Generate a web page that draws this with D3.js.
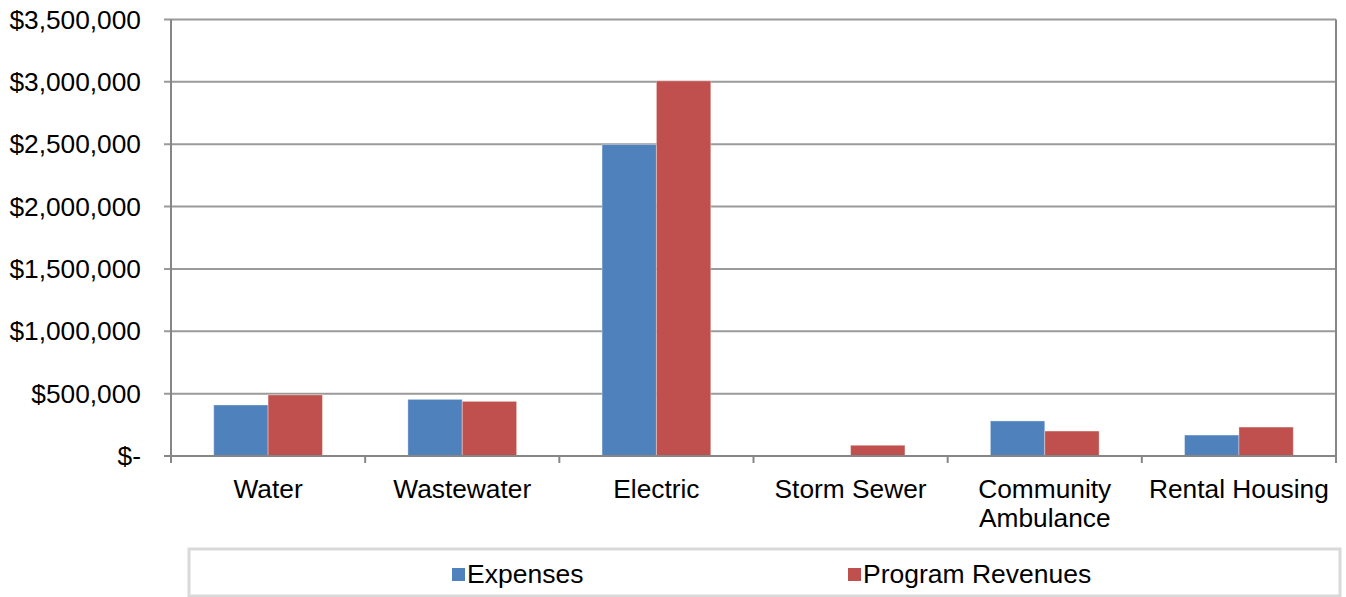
<!DOCTYPE html>
<html>
<head>
	<title>Expenses and Program Revenues</title>
	<script src="https://cdn.jsdelivr.net/npm/d3@7"></script>
	<style>
		body { margin: 0; background: #fff; }
		text { font-family: "Liberation Sans", Arial, sans-serif; fill: #000; }
	</style>
</head>
<body>
<div id="vis"></div>
<script type="text/javascript">
// chart data
var categories = ['Water', 'Wastewater', 'Electric', 'Storm Sewer', 'Community Ambulance', 'Rental Housing'];
var expenses = [409000, 454000, 2497000, 8000, 281000, 168000];
var revenues = [490000, 438000, 3008000, 86000, 200000, 232000];
var seriesNames = ['Expenses', 'Program Revenues'];
var yTicks = [0, 500000, 1000000, 1500000, 2000000, 2500000, 3000000, 3500000];

const COLOR_EXP = '#4f81bd';
const COLOR_REV = '#c0504d';
const COLOR_AXIS = '#868686';

var W = 1346, H = 597;
var plot = { left: 171, right: 1336, top: 19.5, bottom: 456 };

var svg = d3.select('#vis').append('svg').attr('width', W).attr('height', H);

var x = d3.scaleBand().domain(categories).range([plot.left, plot.right]).paddingInner(0).paddingOuter(0);
var gap = x.bandwidth() * 0.22;
var xInner = d3.scaleBand().domain(seriesNames).range([gap, x.bandwidth() - gap]);
var y = d3.scaleLinear().domain([0, 3500000]).range([plot.bottom, plot.top]);

// gridlines
svg.append('g').selectAll('line').data(yTicks.slice(1)).enter().append('line')
	.attr('x1', plot.left - 7).attr('x2', plot.right)
	.attr('y1', function(d){ return y(d); }).attr('y2', function(d){ return y(d); })
	.attr('stroke', '#9a9a9a').attr('stroke-width', 2);

// y labels
var fmt = d3.format(',');
svg.append('g').selectAll('text').data(yTicks).enter().append('text')
	.attr('x', 141).attr('y', function(d){ return y(d); })
	.attr('dy', '0.35em').attr('text-anchor', 'end').style('font-size', '26.3px')
	.text(function(d){ return d === 0 ? '$-' : '$' + fmt(d); });

// bars
var rows = categories.map(function(c, i){
	return { cat: c, values: [{ name: seriesNames[0], v: expenses[i] }, { name: seriesNames[1], v: revenues[i] }] };
});
var colors = d3.scaleOrdinal().domain(seriesNames).range([COLOR_EXP, COLOR_REV]);
var groups = svg.append('g').selectAll('g').data(rows).enter().append('g')
	.attr('transform', function(d){ return 'translate(' + x(d.cat) + ',0)'; });
groups.selectAll('rect').data(function(d){ return d.values; }).enter().append('rect')
	.attr('x', function(d){ return xInner(d.name); })
	.attr('width', xInner.bandwidth())
	.attr('y', function(d){ return y(d.v); })
	.attr('height', function(d){ return plot.bottom - y(d.v); })
	.attr('fill', function(d){ return colors(d.name); })
	.attr('stroke', 'rgba(255,255,255,0.35)').attr('stroke-width', 1);

// axes lines
svg.append('line').attr('x1', plot.left).attr('x2', plot.left).attr('y1', plot.top).attr('y2', plot.bottom + 7)
	.attr('stroke', COLOR_AXIS).attr('stroke-width', 2);
svg.append('line').attr('x1', plot.right).attr('x2', plot.right).attr('y1', plot.top).attr('y2', plot.bottom + 7)
	.attr('stroke', COLOR_AXIS).attr('stroke-width', 2);
svg.append('line').attr('x1', plot.left - 7).attr('x2', plot.right).attr('y1', plot.bottom).attr('y2', plot.bottom)
	.attr('stroke', COLOR_AXIS).attr('stroke-width', 2);
// x ticks at category borders
var borders = categories.map(function(c){ return x(c); }).concat([plot.right]);
svg.append('g').selectAll('line').data(borders).enter().append('line')
	.attr('x1', function(d){ return d; }).attr('x2', function(d){ return d; })
	.attr('y1', plot.bottom).attr('y2', plot.bottom + 7)
	.attr('stroke', COLOR_AXIS).attr('stroke-width', 2);

// category labels (wrap two-word long ones)
var labelLines = { 'Community Ambulance': ['Community', 'Ambulance'] };
var xl = svg.append('g').selectAll('text').data(categories).enter().append('text')
	.attr('x', function(d){ return x(d) + x.bandwidth() / 2; })
	.attr('y', 498).attr('text-anchor', 'middle').style('font-size', '26.3px');
xl.each(function(d){
	var lines = labelLines[d] || [d];
	var t = d3.select(this);
	lines.forEach(function(l, i){
		t.append('tspan').attr('x', x(d) + x.bandwidth() / 2).attr('dy', i === 0 ? 0 : 29).text(l);
	});
});

// legend
var lg = svg.append('g');
lg.append('rect').attr('x', 189).attr('y', 549).attr('width', 1151).attr('height', 47)
	.attr('fill', '#fff').attr('stroke', '#d9d9d9').attr('stroke-width', 3);
var legendX = [452, 848];
seriesNames.forEach(function(s, i){
	lg.append('rect').attr('x', legendX[i]).attr('y', 568).attr('width', 13).attr('height', 13)
		.attr('fill', colors(s));
	lg.append('text').attr('x', legendX[i] + 15).attr('y', 583).style('font-size', '26.5px').text(s);
});
</script>
</body>
</html>
